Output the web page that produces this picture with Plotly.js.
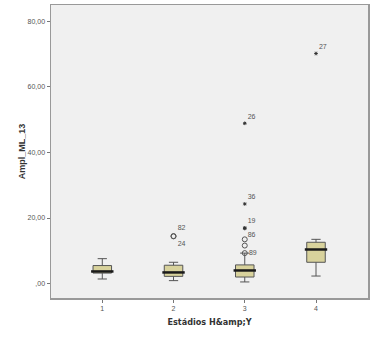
<!DOCTYPE html>
<html>
<head>
<meta charset="utf-8">
<script src="https://cdn.plot.ly/plotly-3.0.1.min.js"></script>
<style>html,body{margin:0;padding:0;background:#fff;}#chart{width:371px;height:338px;}</style>
</head>
<body>
<div id="chart"></div>
<script>
// Data
var categories = ['1', '2', '3', '4'];
var positions = [1, 2, 3, 4];
var lowerWhisker = [1.4, 0.9, 0.5, 2.3];
var q1 = [3.2, 2.2, 2.0, 6.5];
var medians = [3.7, 3.4, 4.0, 10.4];
var q3 = [5.5, 5.6, 5.7, 12.6];
var upperWhisker = [7.6, 6.5, 9.3, 13.5];

var outlierX = [2, 2, 3, 3, 3];
var outlierY = [14.5, 14.4, 13.5, 11.6, 9.3];
var outlierLabels = ['82', '24', '', '', '89'];
var outlierLabelPos = ['top right', 'bottom right', 'middle right', 'middle right', 'middle right'];

var extremeX = [3, 3, 3, 3, 4];
var extremeY = [48.9, 24.3, 17.0, 16.8, 70.2];
var extremeLabels = ['26', '36', '19', '86', '27'];
var extremeLabelPos = ['top right', 'top right', 'top right', 'bottom right', 'top right'];

var yTickVals = [0, 20, 40, 60, 80];
var yTickText = [',00', '20,00', '40,00', '60,00', '80,00'];

var boxWidth = 0.26;

var traces = [
  {
    type: 'box',
    x: positions,
    q1: q1, median: medians, q3: q3,
    lowerfence: lowerWhisker, upperfence: upperWhisker,
    width: boxWidth,
    whiskerwidth: 0.5,
    fillcolor: '#d8d29c',
    line: {color: '#555555', width: 1},
    boxpoints: false,
    hoverinfo: 'skip',
    showlegend: false
  },
  {
    type: 'scatter', mode: 'markers',
    x: positions, y: medians,
    marker: {symbol: 'line-ew', size: 16, line: {width: 2.5, color: '#1a1a1a'}},
    hoverinfo: 'skip', showlegend: false
  },
  {
    type: 'scatter', mode: 'markers+text',
    x: outlierX, y: outlierY,
    text: outlierLabels, textposition: outlierLabelPos,
    textfont: {family: 'Liberation Sans, Arial', size: 7, color: '#555555'},
    marker: {symbol: 'circle-open', size: 5, color: '#555', line: {width: 1, color: '#555'}},
    cliponaxis: false, hoverinfo: 'skip', showlegend: false
  },
  {
    type: 'scatter', mode: 'markers+text',
    x: extremeX, y: extremeY,
    text: extremeLabels, textposition: extremeLabelPos,
    textfont: {family: 'Liberation Sans, Arial', size: 7, color: '#555555'},
    marker: {symbol: 'asterisk-open', size: 3, color: '#333', line: {width: 1, color: '#333'}},
    cliponaxis: false, hoverinfo: 'skip', showlegend: false
  }
];

var layout = {
  width: 371, height: 338,
  margin: {l: 51, r: 3, t: 5, b: 40},
  paper_bgcolor: '#ffffff',
  plot_bgcolor: '#f0f0f0',
  font: {family: 'Liberation Sans, Arial', color: '#444'},
  xaxis: {
    range: [0.28, 4.73],
    tickvals: positions, ticktext: categories,
    ticks: 'outside', ticklen: 3, tickcolor: '#777',
    tickfont: {size: 7, color: '#555'},
    showgrid: false, zeroline: false,
    showline: true, mirror: true, linecolor: '#999', linewidth: 1.5,
    title: {text: '<b>Estádios H&amp;amp;Y</b>', font: {size: 9, color: '#333', family: 'DejaVu Sans Condensed, DejaVu Sans'}, standoff: 8}
  },
  yaxis: {
    range: [-4.4, 85],
    tickvals: yTickVals, ticktext: yTickText,
    ticks: 'outside', ticklen: 3, tickcolor: '#777',
    tickfont: {size: 7, color: '#555'},
    showgrid: false, zeroline: false,
    showline: true, mirror: true, linecolor: '#999', linewidth: 1.5,
    title: {text: '<b>Ampl_ML_13</b>', font: {size: 9, color: '#333', family: 'Liberation Sans, Arial'}, standoff: 0}
  }
};

Plotly.newPlot('chart', traces, layout, {staticPlot: true, displayModeBar: false});
</script>
</body>
</html>
